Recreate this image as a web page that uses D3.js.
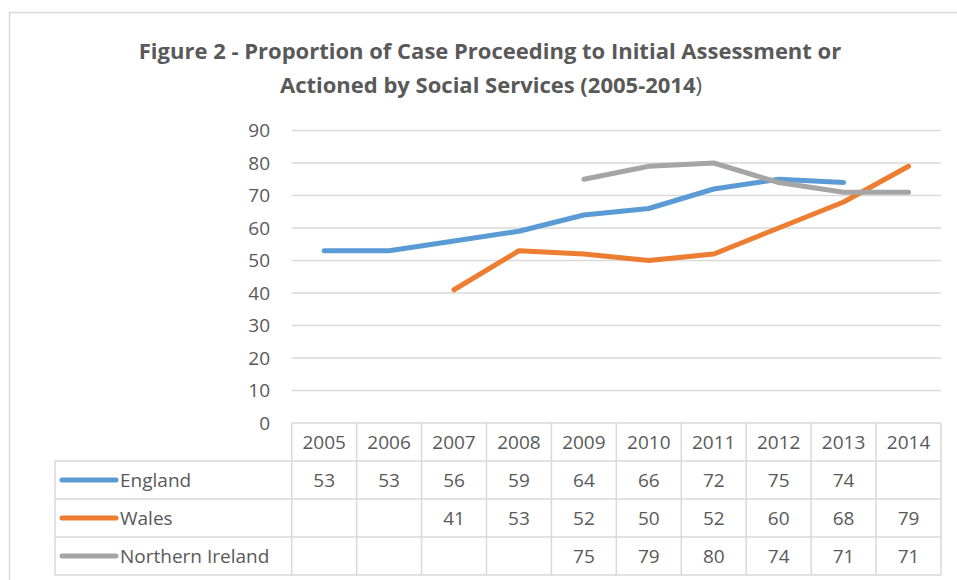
<!DOCTYPE html>
<html>
<head>
<meta charset="utf-8">
<script src="https://cdn.jsdelivr.net/npm/d3@7"></script>
<style>
  body { margin: 0; background: #fff; }
  text { font-family: "Open Sans", "DejaVu Sans", sans-serif; fill: #595959; }
</style>
</head>
<body>
<svg id="viz"></svg>
<script>
// chart data
var years = ["2005", "2006", "2007", "2008", "2009", "2010", "2011", "2012", "2013", "2014"];
var seriesNames = ["England", "Wales", "Northern Ireland"];
var england = [53, 53, 56, 59, 64, 66, 72, 75, 74, null];
var wales = [null, null, 41, 53, 52, 50, 52, 60, 68, 79];
var nireland = [null, null, null, null, 75, 79, 80, 74, 71, 71];
var yTicks = [0, 10, 20, 30, 40, 50, 60, 70, 80, 90];
var colors = ["#5B9BD5", "#ED7D31", "#A5A5A5"];

var width = 957;
var height = 580;

var svg = d3.select("#viz")
	.attr("width", width)
	.attr("height", height)
	.style("display", "block")

// chart frame (runs off the right / bottom of the picture)
svg.append("rect")
	.attr("x", 9.5).attr("y", 12.5)
	.attr("width", 1000).attr("height", 1000)
	.style("fill", "none")
	.style("stroke", "#d9d9d9")
	.style("stroke-width", 1.5)

// title
var title = svg.append("text")
	.attr("text-anchor", "middle")
	.style("font-weight", "bold")
	.style("font-size", "22px")
title.append("tspan").attr("x", 490).attr("y", 59)
	.text("Figure 2 - Proportion of Case Proceeding to Initial Assessment or")
var t2 = title.append("tspan").attr("x", 491).attr("y", 93)
t2.append("tspan").text("Actioned by Social Services (2005-2014")
t2.append("tspan").style("font-weight", "normal").text(")")

var x = d3.scaleBand().domain(years).range([291.7, 941])
var y = d3.scaleLinear().domain([0, 90]).range([423, 130.5])

// gridlines
svg.selectAll(".grid")
	.data(yTicks.filter(d => d > 0))
	.join("line")
	.attr("class", "grid")
	.attr("x1", x.range()[0]).attr("x2", x.range()[1])
	.attr("y1", d => y(d)).attr("y2", d => y(d))
	.style("stroke", "#d9d9d9")
	.style("stroke-width", 1.5)

// y tick labels
svg.selectAll(".ylab")
	.data(yTicks)
	.join("text")
	.attr("class", "ylab")
	.attr("x", 270)
	.attr("y", d => y(d))
	.attr("dy", "0.35em")
	.attr("text-anchor", "end")
	.style("font-size", "19px")
	.text(d => d)

var allSeries = [england, wales, nireland];

var line = d3.line()
	.defined(d => d != null)
	.x((d, i) => x(years[i]) + x.bandwidth() / 2)
	.y(d => y(d))

svg.selectAll(".series")
	.data(allSeries)
	.join("path")
	.attr("class", "series")
	.attr("d", d => line(d))
	.style("fill", "none")
	.style("stroke", (d, i) => colors[i])
	.style("stroke-width", 5)
	.style("stroke-linecap", "round")
	.style("stroke-linejoin", "round")

// data table below the plot
var rows = d3.scaleBand().domain(["header"].concat(seriesNames)).range([423, 575])
var tableColor = "#d9d9d9";
var legendLeft = 55;

var tbl = svg.append("g")
	.style("stroke", tableColor)
	.style("stroke-width", 1.5)

// horizontal rules
tbl.append("line")
	.attr("x1", x.range()[0]).attr("x2", x.range()[1])
	.attr("y1", rows("header")).attr("y2", rows("header"))
seriesNames.concat(["end"]).forEach((s, i) => {
	let yy = i < seriesNames.length ? rows(s) : rows.range()[1];
	tbl.append("line")
		.attr("x1", legendLeft).attr("x2", x.range()[1])
		.attr("y1", yy).attr("y2", yy)
})
// vertical rules
years.concat(["end"]).forEach((yr, i) => {
	let xx = i < years.length ? x(yr) : x.range()[1];
	tbl.append("line")
		.attr("x1", xx).attr("x2", xx)
		.attr("y1", rows("header")).attr("y2", rows.range()[1])
})
tbl.append("line")
	.attr("x1", legendLeft).attr("x2", legendLeft)
	.attr("y1", rows(seriesNames[0])).attr("y2", rows.range()[1])

// header years
svg.selectAll(".yearlab")
	.data(years)
	.join("text")
	.attr("class", "yearlab")
	.attr("x", d => x(d) + x.bandwidth() / 2)
	.attr("y", rows("header") + rows.bandwidth() / 2)
	.attr("dy", "0.35em")
	.attr("text-anchor", "middle")
	.style("font-size", "19px")
	.text(d => d)

// legend keys + values
seriesNames.forEach((name, si) => {
	let cy = rows(name) + rows.bandwidth() / 2;
	svg.append("line")
		.attr("x1", 62).attr("x2", 116)
		.attr("y1", cy).attr("y2", cy)
		.style("stroke", colors[si])
		.style("stroke-width", 5)
		.style("stroke-linecap", "round")
	svg.append("text")
		.attr("x", 120).attr("y", cy).attr("dy", "0.35em")
		.style("font-size", "19px")
		.text(name)
	svg.selectAll(".val" + si)
		.data(allSeries[si])
		.join("text")
		.attr("class", "val" + si)
		.attr("x", (d, i) => x(years[i]) + x.bandwidth() / 2)
		.attr("y", cy).attr("dy", "0.35em")
		.attr("text-anchor", "middle")
		.style("font-size", "19px")
		.text(d => d == null ? "" : d)
})
</script>
</body>
</html>
